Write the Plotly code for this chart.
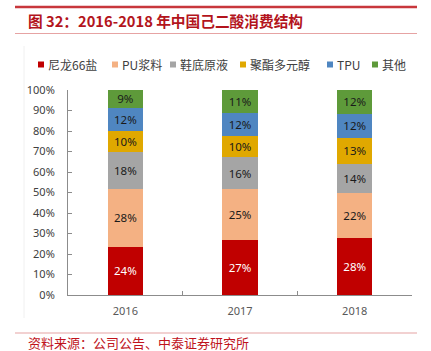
import plotly.graph_objects as go

years = ["2016", "2017", "2018"]
series_names = ["尼龙66盐", "PU浆料", "鞋底原液", "聚酯多元醇", "TPU", "其他"]
nylon66 = [23.6, 27.0, 27.6]
pu_slurry = [28.1, 24.6, 22.3]
sole_liquid = [18.3, 15.6, 14.1]
polyester_polyol = [9.8, 10.2, 12.7]
tpu = [11.5, 11.6, 11.7]
other = [8.7, 11.0, 11.6]
y_ticks = [0, 10, 20, 30, 40, 50, 60, 70, 80, 90, 100]
y_tick_labels = [f"{v}%" for v in y_ticks]

series_values = [nylon66, pu_slurry, sole_liquid, polyester_polyol, tpu, other]
colors = ["#C00000", "#F4B183", "#A5A5A5", "#E0A800", "#4F86C1", "#5E9A3A"]
text_colors = ["#FFFFFF", "#1A1A1A", "#1A1A1A", "#1A1A1A", "#1A1A1A", "#1A1A1A"]

W, H = 431, 351
L, R, T, B = 68, 19, 90, 56
pw = W - L - R
ph = H - T - B

def px(x):
    return (x - L) / pw

def py(y):
    return (H - B - y) / ph

fig = go.Figure()
for name, vals, c, tc in zip(series_names, series_values, colors, text_colors):
    fig.add_trace(go.Bar(
        x=years, y=vals, name=name, marker=dict(color=c, line=dict(width=0)),
        text=[f"{round(v)}%" for v in vals], textposition="inside",
        insidetextanchor="middle", textangle=0,
        textfont=dict(family="Noto Sans", size=11.5, color=tc),
        width=0.31, showlegend=False,
    ))

shapes = []
annotations = []
# header / footer decorations
shapes.append(dict(type="line", xref="paper", yref="paper", x0=px(15), x1=px(417), y0=py(7), y1=py(7),
                   line=dict(color="#C8373C", width=2.5)))
shapes.append(dict(type="line", xref="paper", yref="paper", x0=px(15), x1=px(417), y0=py(33.5), y1=py(33.5),
                   line=dict(color="#E6A3A3", width=1.2)))
shapes.append(dict(type="line", xref="paper", yref="paper", x0=px(15), x1=px(417), y0=py(333), y1=py(333),
                   line=dict(color="#E6A3A3", width=1.2)))
shapes.append(dict(type="line", xref="paper", yref="paper", x0=px(24), x1=px(24), y0=py(46), y1=py(318),
                   line=dict(color="#F0F0F0", width=1)))
annotations.append(dict(xref="paper", yref="paper", x=px(26), y=py(21), xanchor="left", yanchor="middle",
                        text="<b>图 32：2016-2018 年中国己二酸消费结构</b>", showarrow=False,
                        font=dict(family="Noto Sans CJK SC", size=14.7, color="#B3141C")))
annotations.append(dict(xref="paper", yref="paper", x=px(26), y=py(342), xanchor="left", yanchor="middle",
                        text="资料来源：公司公告、中泰证券研究所", showarrow=False,
                        font=dict(family="Noto Sans CJK SC", size=13, color="#C0141C")))

# legend row
legend_x = [38, 112, 170, 240, 327, 372]
legend_y = 64.5
for name, c, lx in zip(series_names, colors, legend_x):
    shapes.append(dict(type="rect", xref="paper", yref="paper", x0=px(lx), x1=px(lx + 6),
                       y0=py(legend_y + 3), y1=py(legend_y - 3), fillcolor=c, line=dict(width=0)))
    annotations.append(dict(xref="paper", yref="paper", x=px(lx + 8), y=py(legend_y), xanchor="left",
                            yanchor="middle", text=name, showarrow=False,
                            font=dict(family="Noto Sans CJK SC", size=12, color="#404040")))

fig.update_layout(
    barmode="stack", width=W, height=H,
    margin=dict(l=L, r=R, t=T, b=B),
    paper_bgcolor="white", plot_bgcolor="white",
    shapes=shapes, annotations=annotations,
    xaxis=dict(type="category", showline=True, linecolor="#8C8C8C", linewidth=1,
               ticks="inside", ticklen=4, tickcolor="#8C8C8C", tickson="boundaries",
               tickfont=dict(family="Noto Sans", size=11, color="#595959"),
               ticklabelstandoff=6, showgrid=False, zeroline=False),
    yaxis=dict(range=[0, 100], tickvals=y_ticks, ticktext=y_tick_labels,
               showline=True, linecolor="#8C8C8C", linewidth=1,
               ticks="inside", ticklen=4, tickcolor="#8C8C8C",
               tickfont=dict(family="Noto Sans", size=11, color="#404040"),
               ticklabelstandoff=10, showgrid=False, zeroline=False),
    uniformtext=dict(mode="show", minsize=11.5),
)

fig.write_html("out.html")
